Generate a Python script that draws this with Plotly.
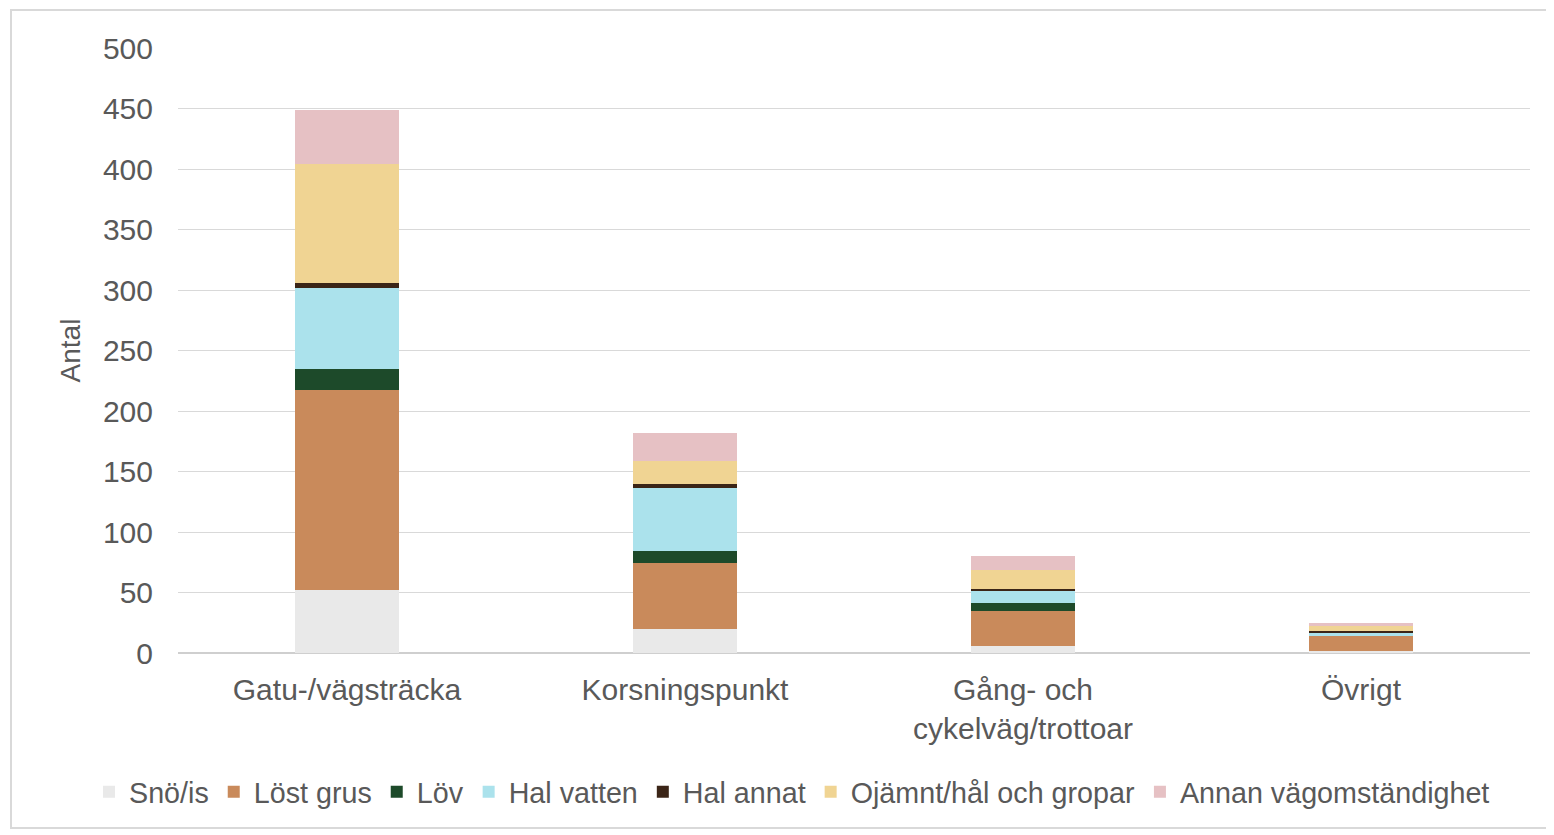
import plotly.graph_objects as go

categories = ["Gatu-/vägsträcka", "Korsningspunkt", "Gång- och<br>cykelväg/trottoar", "Övrigt"]

sno_is = [52, 20, 6, 2]
lost_grus = [165, 54, 29, 12]
lov = [18, 10, 6, 0]
hal_vatten = [67, 52, 11, 3]
hal_annat = [4, 4, 1, 1]
ojamnt = [98, 19, 16, 4]
annan = [45, 23, 11, 3]

series_names = ["Snö/is", "Löst grus", "Löv", "Hal vatten", "Hal annat",
                "Ojämnt/hål och gropar", "Annan vägomständighet"]
series_values = [sno_is, lost_grus, lov, hal_vatten, hal_annat, ojamnt, annan]
series_colors = ["#e9e9e9", "#c98a5b", "#1d4a2a", "#abe2ec", "#3b2517", "#f0d493", "#e6c1c4"]

# page body has an 8px margin: design in target pixels, shift by OFF
OFF = 8
W, H = 1554, 835
ML = 178 - OFF
MT = 48 - OFF
PW, PH = 1352, 605
MR = W - ML - PW
MB = H - MT - PH

fig = go.Figure()
for name, vals, col in zip(series_names, series_values, series_colors):
    fig.add_trace(go.Bar(
        name=name, x=categories, y=vals,
        marker=dict(color=col, line=dict(width=0)),
    ))

txt = "#595959"
font = "Liberation Sans, Arial, sans-serif"

def px_x(p):  # target pixel -> paper x
    return (p - OFF - ML) / PW

def px_y(p):  # target pixel -> paper y
    return (MT + PH - (p - OFF)) / PH

fig.update_layout(
    width=W, height=H,
    barmode="stack", bargap=0.69,
    margin=dict(l=ML, r=MR, t=MT, b=MB, autoexpand=False),
    paper_bgcolor="white", plot_bgcolor="white",
    font=dict(family=font, color=txt, size=29),
    xaxis=dict(
        showgrid=False, showline=False, ticks="", tickangle=0,
        tickfont=dict(size=30, color=txt),
        ticklabelstandoff=16, automargin=False,
    ),
    yaxis=dict(
        range=[0, 500], dtick=50, showgrid=True, gridcolor="#d9d9d9", gridwidth=1.3,
        zeroline=True, zerolinecolor="#cfcfcf", zerolinewidth=1.5, automargin=False,
        ticks="", tickfont=dict(size=30, color=txt), ticklabelstandoff=24,
        title=dict(text="Antal", font=dict(size=28, color=txt), standoff=14),
    ),
    legend=dict(
        orientation="h", xref="paper", x=px_x(89), xanchor="left",
        y=px_y(792), yanchor="middle", font=dict(size=28.7, color=txt),
        itemclick=False, traceorder="normal", tracegroupgap=0,
        bgcolor="rgba(0,0,0,0)",
    ),
    shapes=[dict(
        type="rect", xref="paper", yref="paper",
        x0=px_x(11), x1=px_x(1570), y0=px_y(828), y1=px_y(10),
        line=dict(color="#d9d9d9", width=2), fillcolor="rgba(0,0,0,0)", layer="below",
    )],
)

fig.write_html("out.html")
